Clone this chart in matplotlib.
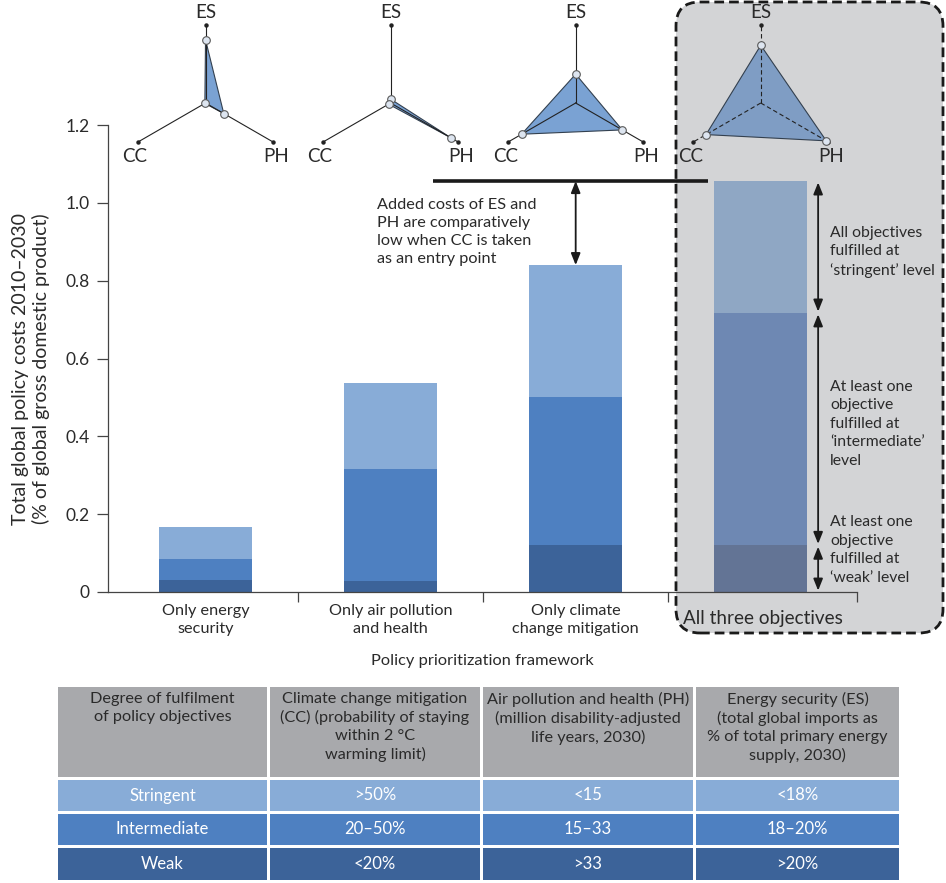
import numpy as np
import matplotlib
matplotlib.use('Agg')
import matplotlib.pyplot as plt
from matplotlib.patches import FancyBboxPatch, Rectangle, Polygon

plt.rcParams['font.family'] = ['Lato', 'DejaVu Sans']

# ---- data ----
frameworks = ['Only energy\nsecurity', 'Only air pollution\nand health',
              'Only climate\nchange mitigation', 'All three objectives']
# cumulative cost at each fulfilment level (% of GDP)
weak_top = [0.030, 0.028, 0.120, 0.120]
intermediate_top = [0.084, 0.316, 0.502, 0.717]
stringent_top = [0.168, 0.537, 0.840, 1.056]

# radar values (fraction of axis length) for ES, CC, PH
radar_labels = ['ES', 'CC', 'PH']
radar_es = [0.81, 0.05, 0.37, 0.74]
radar_cc = [0.01, 0.03, 0.80, 0.81]
radar_ph = [0.27, 0.90, 0.69, 0.97]

yticks = [0, 0.2, 0.4, 0.6, 0.8, 1.0, 1.2]
ytick_labels = ['0', '0.2', '0.4', '0.6', '0.8', '1.0', '1.2']

table_header = ['Degree of fulfilment\nof policy objectives',
                'Climate change mitigation\n(CC) (probability of staying\nwithin 2 °C\nwarming limit)',
                'Air pollution and health (PH)\n(million disability-adjusted\nlife years, 2030)',
                'Energy security (ES)\n(total global imports as\n% of total primary energy\nsupply, 2030)']
levels = ['Stringent', 'Intermediate', 'Weak']
cc_thresholds = ['>50%', '20–50%', '<20%']
ph_thresholds = ['<15', '15–33', '>33']
es_thresholds = ['<18%', '18–20%', '>20%']

# ---- colours ----
light, medium, dark = '#88acd7', '#4e80c1', '#3c6399'
light_m, medium_m, dark_m = '#8fa7c4', '#6e88b3', '#637495'
header_grey = '#a8a9ac'
box_grey = '#d3d4d6'
txt = '#2a2a2a'

W, H = 946, 883
fig = plt.figure(figsize=(W / 100, H / 100), dpi=100)

bg = fig.add_axes([0, 0, 1, 1], zorder=0)
bg.set_xlim(0, W)
bg.set_ylim(0, H)
bg.axis('off')

ax = fig.add_axes([108 / W, 291 / H, 749 / W, 467 / H], zorder=1)
ax.patch.set_alpha(0)

fg = fig.add_axes([0, 0, 1, 1], zorder=2)
fg.set_xlim(0, W)
fg.set_ylim(0, H)
fg.axis('off')

# grey box around "all three objectives"
box = FancyBboxPatch((676, 250), 943 - 676, 881 - 250,
                     boxstyle='round,pad=0,rounding_size=24',
                     fc=box_grey, ec='#1a1a1a', lw=2, ls=(0, (3.5, 1.8)))
bg.add_patch(box)

# ---- stacked bars ----
x = np.arange(len(frameworks))
w = 0.5
weak = np.array(weak_top)
inter = np.array(intermediate_top) - weak
strin = np.array(stringent_top) - np.array(intermediate_top)
ax.bar(x, weak, w, color=[dark] * 3 + [dark_m])
ax.bar(x, inter, w, bottom=weak, color=[medium] * 3 + [medium_m])
ax.bar(x, strin, w, bottom=intermediate_top, color=[light] * 3 + [light_m])

ax.set_xlim(-0.527, 3.52)
ax.set_ylim(0, 1.2)
for s in ['top', 'right']:
    ax.spines[s].set_visible(False)
for s in ['left', 'bottom']:
    ax.spines[s].set_color('#444')
    ax.spines[s].set_linewidth(0.9)

ax.set_yticks(yticks, ytick_labels)
ax.tick_params(axis='y', direction='out', length=8, width=0.9, pad=5,
               labelsize=12.5, colors='#444', labelcolor=txt)
ax.set_xticks([0.5, 1.5, 2.5, 3.52], [])
ax.set_xticks(x[:3], frameworks[:3], minor=True)
ax.tick_params(axis='x', which='major', direction='out', length=7.5, width=0.9, colors='#444')
ax.tick_params(axis='x', which='minor', length=0, pad=9, labelsize=11.7, labelcolor=txt)
for l in ax.get_xticklabels(minor=True):
    l.set_linespacing(1.3)
ax.text(x[3] + 0.01, -0.056, frameworks[3], transform=ax.get_xaxis_transform(),
        ha='center', va='center', fontsize=13.6, color=txt)

bg.text(31, H - 369, 'Total global policy costs 2010–2030\n(% of global gross domestic product)',
        rotation=90, ha='center', va='center', fontsize=14, color=txt, linespacing=1.2)
bg.text(482, H - 661, 'Policy prioritization framework', ha='center', va='center',
        fontsize=11.8, color=txt)

# ---- annotations ----
ax.plot([1.23, 3 - w / 2 - 0.035], [stringent_top[3]] * 2, color='#1a1a1a', lw=2.6,
        solid_capstyle='butt', clip_on=False)
arrow = dict(arrowstyle='<|-|>,head_length=0.5,head_width=0.2', color='#1a1a1a',
             lw=1.3, mutation_scale=14, shrinkA=0, shrinkB=0)
ax.annotate('', xy=(2, stringent_top[2]), xytext=(2, stringent_top[3]), arrowprops=arrow)
ax.text(0.925, 1.012, 'Added costs of ES and\nPH are comparatively\nlow when CC is taken\nas an entry point',
        ha='left', va='top', fontsize=11.7, color=txt, linespacing=1.36)

spans = [(stringent_top[3], intermediate_top[3]), (intermediate_top[3], weak_top[3]),
         (weak_top[3], 0)]
arrow_r = dict(arrow, shrinkA=1, shrinkB=1)
for top, bot in spans:
    ax.annotate('', xy=(3.31, bot), xytext=(3.31, top), arrowprops=arrow_r,
                annotation_clip=False)
side_notes = [(0.874, 'All objectives\nfulfilled at\n\u2018stringent\u2019 level'),
              (0.432, 'At least one\nobjective\nfulfilled at\n\u2018intermediate\u2019\nlevel'),
              (0.108, 'At least one\nobjective\nfulfilled at\n\u2018weak\u2019 level')]
for yy, s in side_notes:
    ax.text(3.375, yy, s, ha='left', va='center', fontsize=11.3, color=txt,
            linespacing=1.42, clip_on=False)

# ---- radar glyphs above each bar ----
ang = np.deg2rad([90, 210, 330])
L = 78
cy = H - 103
for i in range(len(frameworks)):
    cx = ax.transData.transform((x[i], 0))[0]
    vals = np.array([radar_es[i], radar_cc[i], radar_ph[i]])
    allthree = i == 3
    ex = cx + L * np.cos(ang)
    ey = cy + L * np.sin(ang)
    px = cx + vals * L * np.cos(ang)
    py = cy + vals * L * np.sin(ang)
    fg.add_patch(Polygon(np.column_stack([px, py]), closed=True,
                         fc='#7f9dc4' if allthree else '#7aa2d3',
                         ec='#33404f', lw=0.8, zorder=2))
    for k in range(3):
        fg.plot([cx, ex[k]], [cy, ey[k]], color='#222', lw=0.8, zorder=3,
                ls=(0, (4, 2.5)) if allthree else '-')
    fg.plot(ex, ey, 'o', ms=2.2, color='#222', ls='none', zorder=3)
    fg.plot(px, py, 'o', ms=5.5, mfc='#dde5f0', mec='#5a5a5a', mew=0.8, ls='none', zorder=4)
    fg.text(ex[0], ey[0] + 13, radar_labels[0], ha='center', va='center', fontsize=13.5, color=txt)
    fg.text(ex[1] - 3, ey[1] - 14, radar_labels[1], ha='center', va='center', fontsize=13.5, color=txt)
    fg.text(ex[2] + 3, ey[2] - 14, radar_labels[2], ha='center', va='center', fontsize=13.5, color=txt)

# ---- table ----
col_edges = [(58, 267), (270, 480), (483, 693), (696, 899)]
row_edges = [(687, 777), (780, 811), (814, 845), (848, 880)]
row_colors = [light, medium, dark]
body = [levels, cc_thresholds, ph_thresholds, es_thresholds]

for c, (x0, x1) in enumerate(col_edges):
    y0, y1 = row_edges[0]
    bg.add_patch(Rectangle((x0, H - y1), x1 - x0, y1 - y0, fc=header_grey, ec='none'))
    bg.text((x0 + x1) / 2, H - y0 - 5, table_header[c], ha='center', va='top',
            fontsize=11.7, color=txt, linespacing=1.33)
    for r in range(3):
        y0, y1 = row_edges[r + 1]
        bg.add_patch(Rectangle((x0, H - y1), x1 - x0, y1 - y0, fc=row_colors[r], ec='none'))
        bg.text((x0 + x1) / 2, H - (y0 + y1) / 2, body[c][r], ha='center', va='center',
                fontsize=12, color='white')

fig.savefig('out.png', dpi=100)
